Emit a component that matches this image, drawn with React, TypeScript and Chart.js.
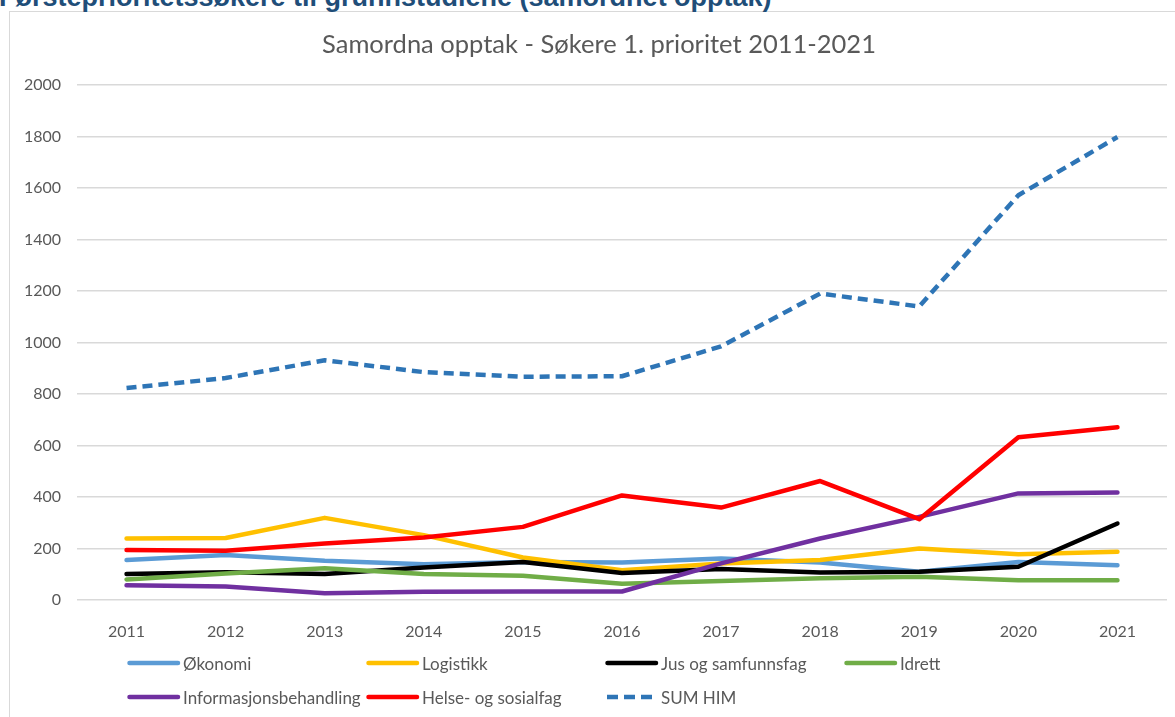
import React, { useEffect, useRef } from "react";
import { Chart, registerables } from "chart.js";

Chart.register(...registerables);

const years = ["2011", "2012", "2013", "2014", "2015", "2016", "2017", "2018", "2019", "2020", "2021"];
const okonomi = [155, 175, 152, 139, 148, 146, 161, 146, 110, 148, 135];
const logistikk = [239, 241, 319, 252, 165, 116, 142, 155, 200, 178, 187];
const jus = [101, 108, 101, 126, 148, 105, 120, 107, 110, 129, 297];
const idrett = [80, 103, 123, 101, 94, 63, 74, 84, 90, 77, 77];
const info = [57, 52, 26, 32, 33, 33, 142, 239, 323, 414, 417];
const helse = [194, 191, 219, 243, 284, 406, 359, 462, 314, 632, 671];
const sumHim = [823, 862, 931, 885, 867, 869, 985, 1190, 1140, 1572, 1798];

const seriesNames = ["Økonomi", "Logistikk", "Jus og samfunnsfag", "Idrett", "Informasjonsbehandling", "Helse- og sosialfag", "SUM HIM"];
const seriesColors = ["#5B9BD5", "#FFC000", "#000000", "#70AD47", "#7030A0", "#FF0000", "#2E75B6"];
const seriesData = [okonomi, logistikk, jus, idrett, info, helse, sumHim];

const titleText = "Samordna opptak - Søkere 1. prioritet 2011-2021";
const headerText = "Førsteprioritetssøkere til grunnstudiene (samordnet opptak)";

const legendPos = [
  { x: 127, y: 663 },
  { x: 366, y: 663 },
  { x: 605, y: 663 },
  { x: 844, y: 663 },
  { x: 127, y: 697 },
  { x: 366, y: 697 },
  { x: 605, y: 697 },
];

const FONT = "Lato, 'Open Sans', sans-serif";

const titlePlugin = {
  id: "frameTitle",
  afterDraw(chart: any) {
    const ctx = chart.ctx;
    ctx.save();
    ctx.font = `normal 25.5px ${FONT}`;
    ctx.fillStyle = "#595959";
    ctx.textAlign = "center";
    ctx.textBaseline = "middle";
    ctx.fillText(titleText, 599, 45);
    ctx.restore();
  },
};

export default function App() {
  const ref = useRef<HTMLCanvasElement | null>(null);

  useEffect(() => {
    if (!ref.current) return;
    const chart = new Chart(ref.current, {
      type: "line",
      data: {
        labels: years,
        datasets: seriesData.map((d, i) => ({
          label: seriesNames[i],
          data: d,
          borderColor: seriesColors[i],
          backgroundColor: seriesColors[i],
          borderWidth: 4.5,
          pointRadius: 0,
          pointHoverRadius: 0,
          tension: 0,
          fill: false,
          borderJoinStyle: "round" as const,
          borderCapStyle: i === 6 ? ("butt" as const) : ("round" as const),
          borderDash: i === 6 ? [10, 6] : [],
          order: 6 - i,
        })),
      },
      options: {
        responsive: false,
        animation: false,
        layout: { padding: { top: 85, left: 0, right: 8, bottom: 0 } },
        plugins: {
          legend: { display: false },
          tooltip: { enabled: false },
          title: { display: false },
        },
        scales: {
          x: {
            type: "category",
            offset: true,
            grid: { display: false },
            border: { display: false },
            ticks: { color: "#595959", font: { family: FONT, size: 16 }, padding: 14, maxRotation: 0 },
            afterFit: (scale: any) => {
              scale.height = 117;
            },
          },
          y: {
            min: 0,
            max: 2000,
            ticks: {
              stepSize: 200,
              color: "#595959",
              font: { family: FONT, size: 16 },
              padding: 16,
              callback: (v: any) => String(v),
            },
            grid: { color: "#d9d9d9", lineWidth: 1.5, drawTicks: false },
            border: { display: false },
            afterFit: (scale: any) => {
              scale.width = 77;
            },
          },
        },
      },
      plugins: [titlePlugin],
    });
    return () => chart.destroy();
  }, []);

  return (
    <div style={{ position: "absolute", left: 0, top: 0, width: 1175, height: 717, overflow: "hidden", background: "#fff" }}>
      <div
        style={{
          position: "absolute",
          left: 9,
          top: 11,
          width: 1200,
          height: 720,
          border: "1.5px solid #d9d9d9",
          boxSizing: "border-box",
        }}
      />
      <div
        style={{
          position: "absolute",
          left: -1,
          top: -16,
          fontFamily: "'Liberation Sans', Arial, sans-serif",
          fontWeight: "bold",
          fontSize: 27,
          lineHeight: "27px",
          color: "#1F4E79",
          whiteSpace: "nowrap",
        }}
      >
        {headerText}
      </div>
      <canvas ref={ref} width={1175} height={717} style={{ position: "absolute", left: 0, top: 0 }} />
      {seriesNames.map((n, i) => (
        <div
          key={n}
          style={{
            position: "absolute",
            left: legendPos[i].x,
            top: legendPos[i].y - 11,
            height: 22,
            display: "flex",
            alignItems: "center",
            fontFamily: FONT,
            fontSize: 17,
            color: "#595959",
            whiteSpace: "nowrap",
          }}
        >
          <svg width={56} height={8} style={{ display: "block" }}>
            {i === 6 ? (
              <line x1={2} y1={4} x2={52} y2={4} stroke={seriesColors[i]} strokeWidth={4.5} strokeDasharray="11 6" />
            ) : (
              <line x1={2.5} y1={4} x2={51} y2={4} stroke={seriesColors[i]} strokeWidth={4.5} strokeLinecap="round" />
            )}
          </svg>
          <span>{n}</span>
        </div>
      ))}
    </div>
  );
}
